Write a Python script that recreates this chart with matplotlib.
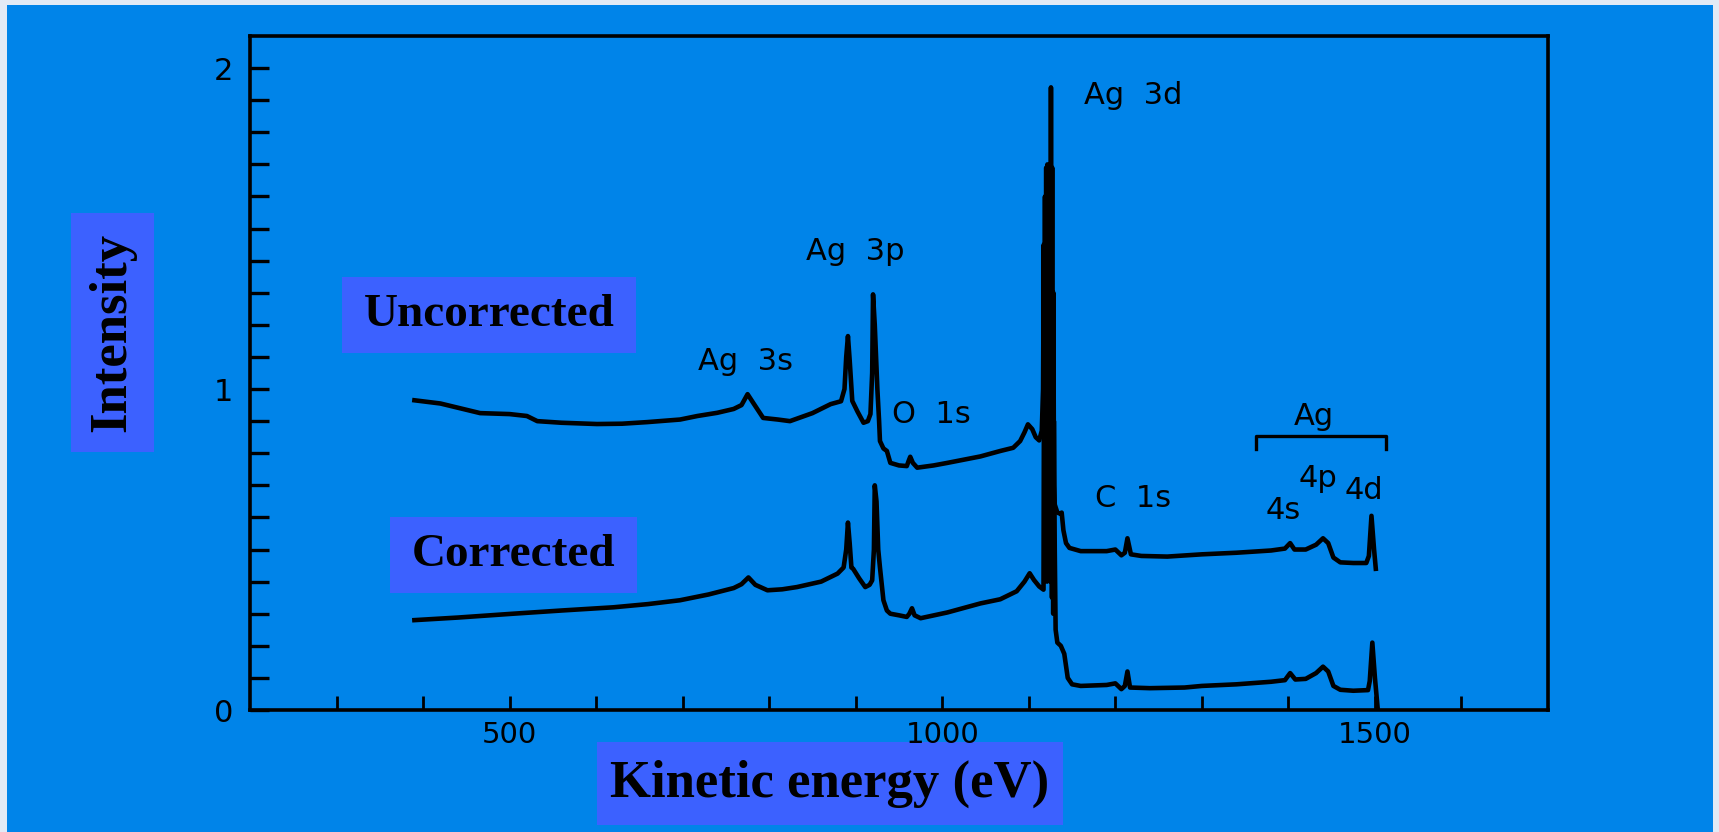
import numpy as np
import matplotlib
matplotlib.use("Agg")
import matplotlib.pyplot as plt
from matplotlib.patches import Rectangle

W, H = 1719, 832
BLUE = "#0084e9"
BOX = "#3c61ff"

# uncorrected spectrum: (kinetic energy eV, intensity)
uncorrected = [
    (390, 0.965), (420, 0.955), (466, 0.925), (500, 0.922), (520, 0.916), (532, 0.900),
    (560, 0.895), (601, 0.891), (630, 0.892), (659, 0.897), (697, 0.905), (717, 0.916),
    (740, 0.926), (759, 0.938), (768, 0.950), (775, 0.984), (782, 0.955), (793, 0.910),
    (810, 0.905), (824, 0.900), (850, 0.925), (871, 0.953), (883, 0.962), (887, 1.000),
    (889, 1.100), (891, 1.165), (893, 1.090), (896, 0.963), (902, 0.930), (909, 0.895),
    (914, 0.900), (917, 0.922), (919, 1.050), (920, 1.295), (922, 1.200), (925, 1.000),
    (927, 0.900), (928, 0.838), (932, 0.815), (936, 0.807), (940, 0.770), (950, 0.762),
    (959, 0.760), (961, 0.775), (963, 0.789), (966, 0.770), (971, 0.755), (990, 0.762),
    (1006, 0.770), (1044, 0.790), (1067, 0.807), (1082, 0.817), (1090, 0.838),
    (1095, 0.865), (1099, 0.890), (1104, 0.875), (1108, 0.850), (1112, 0.840),
    (1115, 0.870), (1116.5, 1.000), (1117.3, 1.450), (1118, 0.900), (1118.7, 1.600),
    (1119.4, 0.950), (1120.1, 1.690), (1120.8, 1.000), (1121.5, 1.700), (1122.2, 0.900),
    (1122.9, 1.690), (1123.6, 1.100), (1124.3, 1.690), (1125, 1.000), (1125.6, 1.940),
    (1126.3, 0.950), (1127, 1.690), (1127.7, 0.800), (1128.4, 1.300), (1129.1, 0.700),
    (1130, 0.640), (1133, 0.615), (1136, 0.612), (1138, 0.615), (1140, 0.560),
    (1143, 0.520), (1147, 0.505), (1160, 0.495), (1190, 0.495), (1200, 0.500),
    (1207, 0.482), (1211, 0.490), (1214, 0.535), (1218, 0.485), (1230, 0.480),
    (1260, 0.478), (1300, 0.485), (1340, 0.490), (1380, 0.497), (1396, 0.503),
    (1402, 0.520), (1407, 0.500), (1420, 0.500), (1432, 0.515), (1440, 0.535),
    (1446, 0.520), (1452, 0.475), (1460, 0.460), (1475, 0.458), (1490, 0.458),
    (1493, 0.480), (1496, 0.605), (1499, 0.500), (1501, 0.440),
]

# corrected spectrum
corrected = [
    (390, 0.280), (440, 0.288), (504, 0.300), (560, 0.310), (620, 0.320), (660, 0.330),
    (697, 0.342), (730, 0.360), (759, 0.380), (768, 0.392), (776, 0.413), (784, 0.390),
    (798, 0.373), (815, 0.376), (832, 0.383), (860, 0.400), (879, 0.425), (886, 0.444),
    (889, 0.500), (891, 0.584), (893, 0.520), (895, 0.444), (897, 0.440), (904, 0.410),
    (911, 0.383), (916, 0.390), (919, 0.404), (921, 0.500), (922, 0.700), (924, 0.650),
    (926, 0.500), (928, 0.444), (932, 0.342), (936, 0.310), (940, 0.300), (950, 0.295),
    (959, 0.290), (962, 0.300), (965, 0.317), (968, 0.295), (975, 0.286), (1006, 0.304),
    (1044, 0.332), (1067, 0.345), (1086, 0.370), (1095, 0.400), (1101, 0.426),
    (1106, 0.405), (1112, 0.385), (1117, 0.375), (1117.7, 1.200), (1118.4, 0.500),
    (1119.1, 1.350), (1119.8, 0.450), (1120.5, 1.400), (1121.2, 0.400), (1121.9, 1.500),
    (1122.6, 0.450), (1123.3, 1.600), (1124, 0.420), (1124.7, 1.690), (1125.4, 0.400),
    (1126.1, 1.650), (1126.8, 0.350), (1127.5, 1.300), (1128.2, 0.300), (1129, 0.900),
    (1130, 0.500), (1131, 0.250), (1133, 0.210), (1137, 0.200), (1141, 0.175),
    (1145, 0.100), (1150, 0.080), (1160, 0.075), (1190, 0.078), (1200, 0.083),
    (1207, 0.065), (1211, 0.075), (1214, 0.120), (1217, 0.070), (1240, 0.068),
    (1280, 0.070), (1300, 0.075), (1340, 0.080), (1380, 0.088), (1396, 0.093),
    (1402, 0.115), (1408, 0.095), (1420, 0.097), (1432, 0.115), (1440, 0.135),
    (1446, 0.120), (1452, 0.075), (1460, 0.063), (1475, 0.060), (1492, 0.062),
    (1494, 0.090), (1497, 0.210), (1500, 0.100), (1503, 0.010),
]
unc_x, unc_y = zip(*uncorrected)
cor_x, cor_y = zip(*corrected)

# peak labels
peak_labels = ["Ag  3s", "Ag  3p", "O  1s", "Ag  3d", "C  1s", "4s", "4p", "4d"]
peak_x = [718, 843, 942, 1164, 1177, 1374, 1412, 1465]
peak_y = [1.087, 1.43, 0.922, 1.916, 0.658, 0.621, 0.72, 0.683]

fig = plt.figure(figsize=(W / 100, H / 100), dpi=100, facecolor="#e2eaf5")
fig.add_artist(Rectangle((7 / W, 0), (1713 - 7) / W, (H - 5) / H,
                         transform=fig.transFigure, facecolor=BLUE, edgecolor="none", zorder=0))

ax = fig.add_axes([250 / W, 1 - 710 / H, (1548 - 250) / W, (710 - 36) / H])
ax.patch.set_visible(False)
ax.set_zorder(3)
ax.set_xlim(200, 1700)
ax.set_ylim(0, 2.1)

ax.plot(unc_x, unc_y, color="black", lw=3.3, solid_joinstyle="round")
ax.plot(cor_x, cor_y, color="black", lw=3.3, solid_joinstyle="round")

for s in ax.spines.values():
    s.set_linewidth(2.6)
    s.set_color("black")

xt = np.arange(300, 1601, 100)
ax.set_xticks(xt)
ax.set_xticklabels([str(v) if v in (500, 1000, 1500) else "" for v in xt])
yt = np.round(np.arange(0, 2.01, 0.1), 1)
ax.set_yticks(yt)
ax.set_yticklabels([str(int(v)) if v in (0, 1, 2) else "" for v in yt])
ax.tick_params(axis="x", direction="in", length=10, width=2, pad=8, labelsize=21)
ax.tick_params(axis="y", direction="in", length=14, width=2.4, pad=12, labelsize=22)
for lab in ax.get_xticklabels() + ax.get_yticklabels():
    lab.set_fontfamily("DejaVu Sans")

for t, x, y in zip(peak_labels, peak_x, peak_y):
    ax.text(x, y, t, fontsize=22, ha="left", va="center", color="black")

# Ag 4s/4p/4d bracket
ax.plot([1362, 1362, 1513, 1513], [0.814, 0.854, 0.854, 0.814], color="black", lw=2.4)
ax.text(1429, 0.913, "Ag", fontsize=22, ha="center", va="center")


def boxed(x0, y0, x1, y1, text, size, rot=0):
    fig.add_artist(Rectangle((x0 / W, 1 - y1 / H), (x1 - x0) / W, (y1 - y0) / H,
                             transform=fig.transFigure, facecolor=BOX, edgecolor="none", zorder=1))
    fig.text((x0 + x1) / 2 / W, 1 - (y0 + y1) / 2 / H, text, rotation=rot,
             ha="center", va="center", fontsize=size, fontweight="bold",
             family="Liberation Serif", zorder=2)


boxed(342, 277, 636, 353, "Uncorrected", 34)
boxed(390, 517, 637, 593, "Corrected", 34)
boxed(71, 213, 154, 452, "Intensity", 38, rot=90)
boxed(597, 742, 1063, 825, "Kinetic energy (eV)", 38)

fig.savefig("out.png", dpi=100, facecolor=fig.get_facecolor())
